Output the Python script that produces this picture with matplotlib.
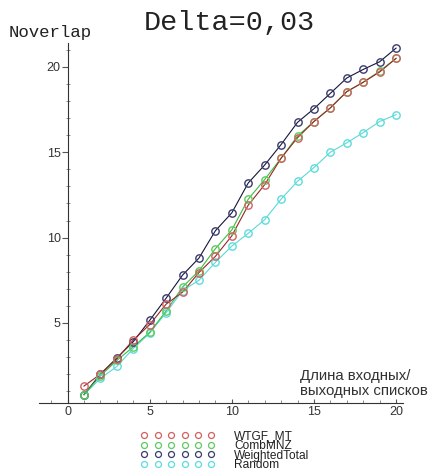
import numpy as np
import matplotlib
matplotlib.use("Agg")
import matplotlib.pyplot as plt
from matplotlib.lines import Line2D

# list length (x) and Noverlap values per method
lengths = list(range(1, 21))
wtgf_mt = [1.3, 2.0, 2.9, 4.0, 4.9, 6.1, 6.8, 7.95, 8.9, 10.1,
           11.9, 13.1, 14.65, 15.85, 16.8, 17.6, 18.55, 19.1, 19.7, 20.5]
comb_mnz = [0.8, 1.9, 2.8, 3.6, 4.45, 5.7, 7.1, 8.05, 9.35, 10.45,
            12.25, 13.4, 14.65, 15.95, 16.8, 17.6, 18.55, 19.1, 19.75, 20.5]
weighted_total = [0.8, 2.0, 2.95, 3.9, 5.15, 6.45, 7.8, 8.8, 10.4, 11.45,
                  13.2, 14.25, 15.45, 16.75, 17.55, 18.45, 19.35, 19.85, 20.3, 21.1]
random_ = [0.8, 1.75, 2.45, 3.5, 4.4, 5.6, 6.9, 7.5, 8.55, 9.5,
           10.25, 11.05, 12.25, 13.3, 14.1, 15.0, 15.55, 16.15, 16.8, 17.2]

series = [
    ("WTGF_MT", wtgf_mt, "#d26060", "#9b2525"),
    ("CombMNZ", comb_mnz, "#5ccc5c", "#3cbc3c"),
    ("WeightedTotal", weighted_total, "#3a3a70", "#15153a"),
    ("Random", random_, "#5cdcdc", "#5cd8d8"),
]

fig = plt.figure(figsize=(4.28, 4.72), dpi=100)
ax = fig.add_axes([0.0907, 0.1462, 0.850, 0.7627])

# draw back to front
for name, vals, mcol, lcol in reversed(series):
    ax.plot(lengths, vals, "-", color=lcol, linewidth=0.8, zorder=2)
    ax.plot(lengths, vals, "o", markersize=5.3, markerfacecolor="none",
            markeredgecolor=mcol, markeredgewidth=1.0, zorder=3)

ax.set_xlim(-1.75, 20.4)
ax.set_ylim(0.31, 21.4)

for s in ("top", "right"):
    ax.spines[s].set_visible(False)
ax.spines["left"].set_position(("data", 0))
for s in ("left", "bottom"):
    ax.spines[s].set_color("#333333")
    ax.spines[s].set_linewidth(0.8)

ax.set_xticks([0, 5, 10, 15, 20])
ax.set_xticks(range(-1, 21), minor=True)
ax.set_yticks([5, 10, 15, 20])
ax.set_yticks(range(1, 22), minor=True)
ax.tick_params(axis="x", which="major", direction="in", length=3,
               pad=2, labelsize=9, labelcolor="#333333", color="#555555")
ax.tick_params(axis="x", which="minor", direction="in", length=2,
               color="#777777")
ax.tick_params(axis="y", which="major", direction="out", length=4,
               pad=1, labelsize=9, labelcolor="#333333", color="#555555")
ax.tick_params(axis="y", which="minor", direction="inout", length=3,
               color="#777777")
for lab in ax.get_xticklabels() + ax.get_yticklabels():
    lab.set_family("Liberation Sans")

fig.text(0.537, 0.937, "Delta=0,03", family="Liberation Mono",
         fontsize=20.5, ha="center", va="baseline", color="#222222")
fig.text(0.019, 0.922, "Noverlap", family="Liberation Mono",
         fontsize=12.5, ha="left", va="baseline", color="#222222")

ax.text(14.15, 0.6, "Длина входных/\nвыходных списков",
        family="Liberation Sans", fontsize=10.8, ha="left", va="bottom",
        color="#333333", linespacing=1.1)

handles = [Line2D([0], [0], linestyle="", marker="o", markersize=4.3,
                  markerfacecolor="none", markeredgecolor=mcol,
                  markeredgewidth=0.9, label=name)
           for name, vals, mcol, lcol in series]
leg = fig.legend(handles=handles, loc="upper left",
                 bbox_to_anchor=(0.318, 0.0985), numpoints=6,
                 handlelength=6.2, handletextpad=1.6, labelspacing=-0.2,
                 frameon=False, borderaxespad=0,
                 prop={"family": "Liberation Sans", "size": 8.6})
for t in leg.get_texts():
    t.set_color("#222222")

fig.savefig("out.png", dpi=100)
